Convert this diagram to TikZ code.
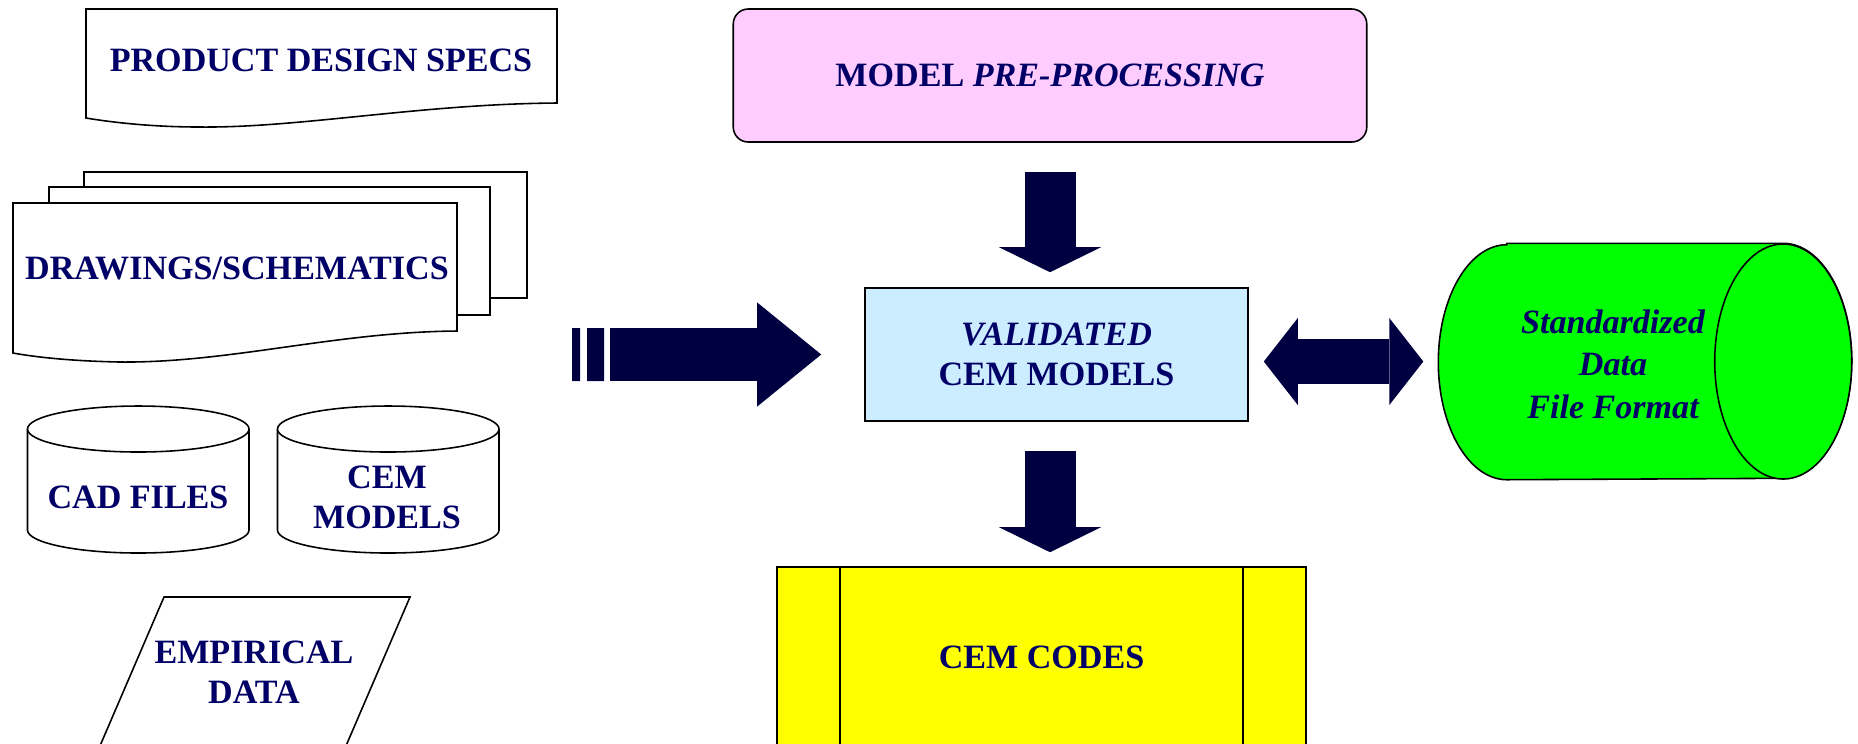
\documentclass[tikz,border=0pt]{standalone}
\usepackage{fontspec}
\setmainfont{Liberation Serif}
\usetikzlibrary{arrows.meta,positioning}
\definecolor{cnavy}{HTML}{000066}
\definecolor{cink}{HTML}{000040}
\definecolor{cpink}{HTML}{FFCCFF}
\definecolor{cblue}{HTML}{CCECFF}
\definecolor{cgreen}{HTML}{00FF00}
\definecolor{cyellow}{HTML}{FFFF00}

\begin{document}
\begin{tikzpicture}[
  x=0.1mm,y=-0.1mm,
  font=\fontsize{9.7}{11.4}\selectfont\bfseries,
  lbl/.style={text=cnavy,align=center,inner sep=0pt,text depth=0pt},
  box/.style={draw,line width=0.45pt,inner sep=0pt,text=cnavy,align=center,text depth=0pt},
  outline/.style={draw,line width=0.45pt,fill=white},
  fatdown/.style={cink,line width=5.1mm,-{Triangle[length=2.5mm,width=10.2mm,line width=0pt]}},
  fatright/.style={cink,line width=5.3mm,-{Triangle[length=6.4mm,width=10.4mm,line width=0pt]}},
  fatboth/.style={cink,line width=4.5mm,{Triangle[length=3.4mm,width=8.7mm,line width=0pt]}-{Triangle[length=3.4mm,width=8.7mm,line width=0pt]}}]
  \useasboundingbox (0,0) rectangle (1858,743);
  \clip (0,0) rectangle (1858,743);

  % sources on the left
  \draw[outline] (86,9) -- (557,9) -- (557,103) .. controls (420,104) and (300,128) .. (200,127)
    .. controls (150,127) and (110,122) .. (86,118) -- cycle;
  \node[lbl] (specs) at (321,60) {PRODUCT DESIGN SPECS};

  \draw[outline] (84,172) rectangle (527,298);
  \draw[outline] (49,187) rectangle (490,315);
  \draw[outline] (13,203) -- (457,203) -- (457,331) .. controls (335,332) and (230,363) .. (120,362)
    .. controls (70,361) and (35,357) .. (13,353) -- cycle;
  \node[lbl] (drawings) at (237,268) {DRAWINGS/SCHEMATICS};

  \draw[outline] (27.5,429) -- (27.5,530) arc[start angle=180,end angle=360,x radius=11.075mm,y radius=2.3mm] -- (249,429);
  \draw[outline] (138.25,429) ellipse[x radius=11.075mm,y radius=2.3mm];
  \node[lbl] (cad) at (138,497) {CAD FILES};

  \draw[outline] (277.5,429) -- (277.5,530) arc[start angle=180,end angle=360,x radius=11.075mm,y radius=2.3mm] -- (499,429);
  \draw[outline] (388.25,429) ellipse[x radius=11.075mm,y radius=2.3mm];
  \node[lbl] (cemmod) at (387,497.5) {CEM\\MODELS};

  \draw[outline] (164,597) -- (410,597) -- (345.5,747) -- (99.5,747) -- cycle;
  \node[lbl] (emp) at (254,672) {EMPIRICAL\\DATA};

  % main chain
  \node[box,fill=cpink,rounded corners=1.5mm,minimum width=63.35mm,minimum height=13.3mm] (pre) at (1050,75.5)
    {MODEL \textit{PRE-PROCESSING}};
  \node[box,fill=cblue,minimum width=38.3mm,minimum height=13.3mm] (val) at (1056.5,354.5)
    {\textit{VALIDATED}\\CEM MODELS};
  \node[box,fill=cyellow,minimum width=52.9mm,minimum height=18mm] (codes) at (1041.5,657) {CEM CODES};
  \draw[line width=0.45pt] ([xshift=6.4mm]codes.north west) -- ([xshift=6.4mm]codes.south west)
    ([xshift=-6.4mm]codes.north east) -- ([xshift=-6.4mm]codes.south east);

  % storage cylinder
  \node[inner sep=0pt,minimum width=41.2mm,minimum height=23.5mm] (data) at (1645,361.5) {};
  \draw[outline,fill=cgreen] ([xshift=6.85mm]data.north west) -- ([xshift=-6.85mm]data.north east)
    arc[start angle=90,end angle=-90,x radius=6.85mm,y radius=11.75mm] -- ([xshift=6.85mm]data.south west)
    arc[start angle=270,end angle=90,x radius=6.85mm,y radius=11.75mm] -- cycle;
  \draw[outline,fill=cgreen] ([xshift=-6.85mm]data.east) ellipse[x radius=6.85mm,y radius=11.75mm];
  \node[lbl,font=\fontsize{9.7}{12.1}\selectfont\bfseries\itshape] (datatext) at (1613,364)
    {Standardized\\Data\\File Format};

  % block arrows
  \coordinate (inputs) at (610,354.5);
  \fill[cink] (572,328) rectangle (580,381) (587,328) rectangle (604,381);
  \draw[fatright,shorten >=4.3mm] (inputs) -- (val.west);
  \draw[fatdown,shorten <=2.9mm,shorten >=1.5mm] (pre.south) -- (pre.south |- val.north);
  \draw[fatdown,shorten <=2.9mm,shorten >=1.4mm] (val.south -| pre.south) -- (codes.north -| pre.south);
  \draw[fatboth,shorten <=1.5mm,shorten >=1.5mm] (data.west -| val.east) -- (data.west);
\end{tikzpicture}
\end{document}
